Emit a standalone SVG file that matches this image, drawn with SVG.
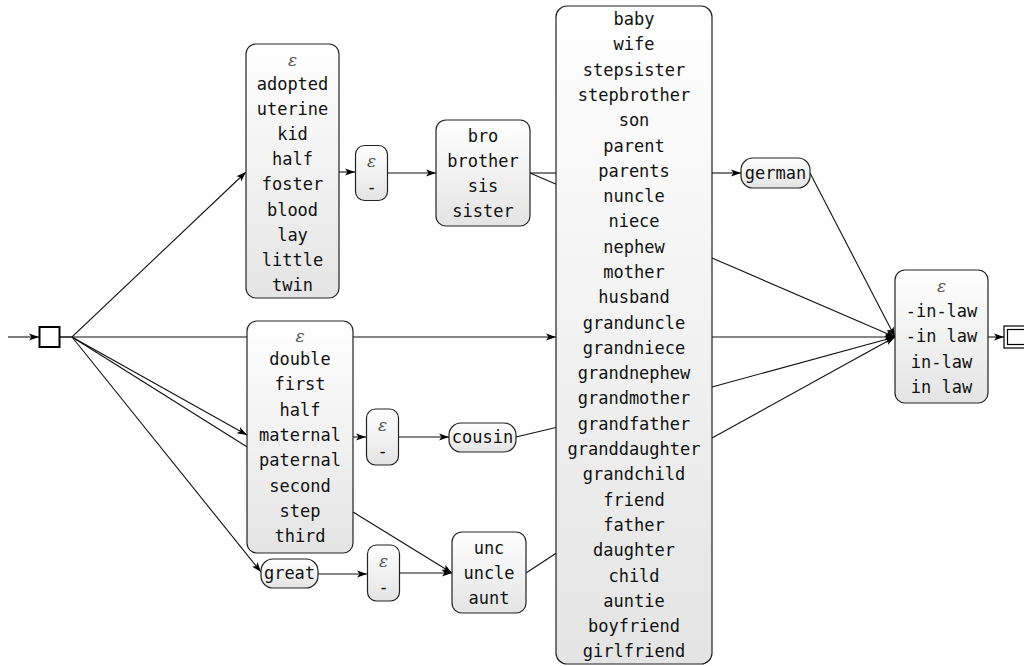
<svg xmlns="http://www.w3.org/2000/svg" width="1024" height="666" viewBox="0 0 1024 666">
<defs>
<linearGradient id="g" x1="0" y1="0" x2="0" y2="1">
<stop offset="0" stop-color="#ffffff"/>
<stop offset="1" stop-color="#e4e4e4"/>
</linearGradient>
<marker id="arr" markerWidth="11" markerHeight="8" refX="10" refY="4" orient="auto" markerUnits="userSpaceOnUse">
<path d="M0,0.5 L10,4 L0,7.5 L2.5,4 z" fill="#000"/>
</marker>
<style>
.n{fill:url(#g);stroke:#222;stroke-width:1.2}
.t{font-family:"DejaVu Sans Mono","Liberation Mono",monospace;font-size:17px;fill:#111;text-anchor:middle}
.e{font-family:"DejaVu Serif","Liberation Serif",serif;font-style:italic;font-size:17px;fill:#555;text-anchor:middle}
.c{fill:none;stroke:#111;stroke-width:1.1}
.a{marker-end:url(#arr)}
</style>
</defs>
<rect width="1024" height="666" fill="#fff"/>
<g id="connectors">
<path class="c a" d="M8,337 L39,337"/>
<path class="c a" d="M59,337 L72,337 L246,172"/>
<path class="c a" d="M59,337 L556,337"/>
<path class="c a" d="M72,337 L247,435"/>
<path class="c" d="M72,337 L252,450"/>
<path class="c a" d="M72,337 L261,572"/>
<path class="c a" d="M338,172 L355,172"/>
<path class="c a" d="M387,173 L436,173"/>
<path class="c" d="M530,173 L558,173"/>
<path class="c" d="M530,173 L558,185"/>
<path class="c a" d="M712,173 L741,173"/>
<path class="c a" d="M810,173 L895,337"/>
<path class="c a" d="M712,258 L895,337"/>
<path class="c a" d="M712,337 L895,337"/>
<path class="c a" d="M712,387 L895,337"/>
<path class="c a" d="M712,438 L895,337"/>
<path class="c a" d="M988,337 L1004,337"/>
<path class="c a" d="M353,437 L366,437"/>
<path class="c a" d="M398,437 L449,437"/>
<path class="c" d="M516,437 L558,427"/>
<path class="c a" d="M353,512 L452,573"/>
<path class="c a" d="M318,574 L367,574"/>
<path class="c a" d="M399,573 L452,573"/>
<path class="c" d="M526,573 L558,552"/>
</g>
<g id="start">
<rect x="39.5" y="327" width="20" height="20" fill="#fff" stroke="#000" stroke-width="2"/>
</g>
<g id="nodeA">
<rect class="n" x="246" y="44" width="93" height="254" rx="10"/>
<text class="e" x="292.5" y="66">ε</text>
<text class="t" x="292.5" y="90"><tspan x="292.5">adopted</tspan><tspan x="292.5" dy="25.1">uterine</tspan><tspan x="292.5" dy="25.1">kid</tspan><tspan x="292.5" dy="25.1">half</tspan><tspan x="292.5" dy="25.1">foster</tspan><tspan x="292.5" dy="25.1">blood</tspan><tspan x="292.5" dy="25.1">lay</tspan><tspan x="292.5" dy="25.1">little</tspan><tspan x="292.5" dy="25.1">twin</tspan></text>
</g>
<g id="eps1">
<rect class="n" x="355.5" y="145.5" width="32" height="55" rx="9"/>
<text class="e" x="371.5" y="167">ε</text>
<text class="t" x="371.5" y="193">-</text>
</g>
<g id="bro">
<rect class="n" x="436" y="120" width="94" height="106" rx="10"/>
<text class="t" x="483" y="142"><tspan x="483">bro</tspan><tspan x="483" dy="25">brother</tspan><tspan x="483" dy="25">sis</tspan><tspan x="483" dy="25">sister</tspan></text>
</g>
<g id="big">
<rect class="n" x="556" y="6" width="156" height="658" rx="11"/>
<text class="t" x="634" y="25"><tspan x="634">baby</tspan><tspan x="634" dy="25.3">wife</tspan><tspan x="634" dy="25.3">stepsister</tspan><tspan x="634" dy="25.3">stepbrother</tspan><tspan x="634" dy="25.3">son</tspan><tspan x="634" dy="25.3">parent</tspan><tspan x="634" dy="25.3">parents</tspan><tspan x="634" dy="25.3">nuncle</tspan><tspan x="634" dy="25.3">niece</tspan><tspan x="634" dy="25.3">nephew</tspan><tspan x="634" dy="25.3">mother</tspan><tspan x="634" dy="25.3">husband</tspan><tspan x="634" dy="25.3">granduncle</tspan><tspan x="634" dy="25.3">grandniece</tspan><tspan x="634" dy="25.3">grandnephew</tspan><tspan x="634" dy="25.3">grandmother</tspan><tspan x="634" dy="25.3">grandfather</tspan><tspan x="634" dy="25.3">granddaughter</tspan><tspan x="634" dy="25.3">grandchild</tspan><tspan x="634" dy="25.3">friend</tspan><tspan x="634" dy="25.3">father</tspan><tspan x="634" dy="25.3">daughter</tspan><tspan x="634" dy="25.3">child</tspan><tspan x="634" dy="25.3">auntie</tspan><tspan x="634" dy="25.3">boyfriend</tspan><tspan x="634" dy="25.3">girlfriend</tspan></text>
</g>
<g id="german">
<rect class="n" x="741" y="158" width="69" height="30" rx="12"/>
<text class="t" x="775.5" y="179">german</text>
</g>
<g id="inlaw">
<rect class="n" x="895" y="270" width="93" height="133" rx="10"/>
<text class="e" x="941.5" y="292">ε</text>
<text class="t" x="941.5" y="317"><tspan x="941.5">-in-law</tspan><tspan x="941.5" dy="25.3">-in law</tspan><tspan x="941.5" dy="25.3">in-law</tspan><tspan x="941.5" dy="25.3">in law</tspan></text>
</g>
<g id="final">
<rect x="1004" y="326" width="30" height="22" fill="#fff" stroke="#000" stroke-width="1.2"/>
<rect x="1007.5" y="329.5" width="23" height="15" fill="#fff" stroke="#000" stroke-width="1.2"/>
</g>
<g id="nodeB">
<rect class="n" x="247" y="321" width="106" height="232" rx="10"/>
<text class="e" x="300" y="342">ε</text>
<text class="t" x="300" y="365"><tspan x="300">double</tspan><tspan x="300" dy="25.3">first</tspan><tspan x="300" dy="25.3">half</tspan><tspan x="300" dy="25.3">maternal</tspan><tspan x="300" dy="25.3">paternal</tspan><tspan x="300" dy="25.3">second</tspan><tspan x="300" dy="25.3">step</tspan><tspan x="300" dy="25.3">third</tspan></text>
</g>
<g id="eps2">
<rect class="n" x="366.5" y="409" width="32" height="56" rx="9"/>
<text class="e" x="382.5" y="431">ε</text>
<text class="t" x="382.5" y="457">-</text>
</g>
<g id="cousin">
<rect class="n" x="449" y="423" width="67" height="29" rx="12"/>
<text class="t" x="482.5" y="443">cousin</text>
</g>
<g id="great">
<rect class="n" x="261" y="559" width="57" height="29" rx="12"/>
<text class="t" x="289.5" y="579">great</text>
</g>
<g id="eps3">
<rect class="n" x="367.5" y="545" width="32" height="56" rx="9"/>
<text class="e" x="383.5" y="567">ε</text>
<text class="t" x="383.5" y="593">-</text>
</g>
<g id="unc">
<rect class="n" x="452" y="532" width="74" height="81" rx="10"/>
<text class="t" x="489" y="554"><tspan x="489">unc</tspan><tspan x="489" dy="25">uncle</tspan><tspan x="489" dy="25">aunt</tspan></text>
</g>
</svg>
